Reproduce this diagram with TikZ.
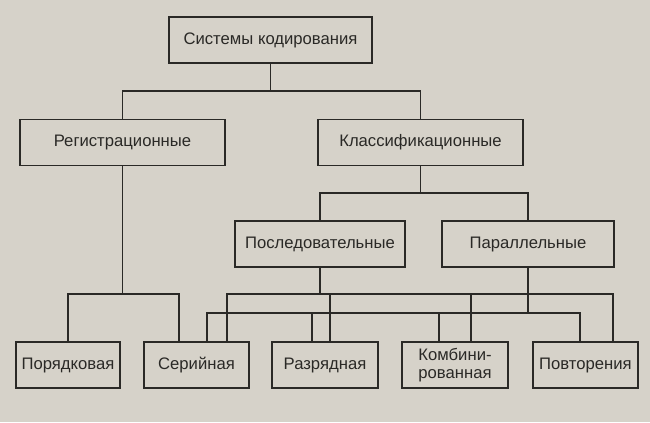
\documentclass[tikz,border=0pt]{standalone}
\usepackage{fontspec}
\setmainfont{Liberation Sans}
\usetikzlibrary{positioning}
\definecolor{paper}{HTML}{D6D2C9}
\definecolor{ink}{HTML}{2A2926}

\tikzset{
  box/.style={draw=ink, fill=paper, line width=1.2pt, inner sep=0pt, align=center,
    minimum height=34.5pt, font=\fontsize{12.5}{13.5}\selectfont, text=ink},
  wire/.style={draw=ink, line width=1.2pt}
}

\begin{document}
\begin{tikzpicture}[x=0.75pt, y=-0.75pt]
% Paper
\fill[paper] (0,0) rectangle (650,422);
% Boxes
\node[box, minimum width=152pt] (sys) at (270.5,40) {Системы кодирования};
\node[box, minimum width=154pt] (reg) at (122.5,142.5) {Регистрационные};
\node[box, minimum width=154pt] (cls) at (420.5,142.5) {Классификационные};
\node[box, minimum width=127.5pt] (pos) at (320,244) {Последовательные};
\node[box, minimum width=129pt] (par) at (528,244) {Параллельные};
\node[box, minimum width=78pt] (por) at (68,365) {Порядковая};
\node[box, minimum width=79pt] (ser) at (196.5,365) {Серийная};
\node[box, minimum width=79.5pt] (raz) at (325,365) {Разрядная};
\node[box, minimum width=79.5pt] (kom) at (455,365) {Комбини-\\рованная};
\node[box, minimum width=79pt] (pov) at (585.5,365) {Повторения};
% Junctions
\coordinate (jsys) at (270.5,91);
\coordinate (jcls) at (420.5,193);
\coordinate (jreg) at (122.5,294);
\coordinate (jpos) at (320,294);
\coordinate (jpar) at (528,313);
% Upper levels
\draw[wire] (sys) -- (jsys);
\draw[wire] (reg) |- (jsys) -| (cls);
\draw[wire] (cls) -- (jcls);
\draw[wire] (pos) |- (jcls) -| (par);
% Registration
\draw[wire] (reg) -- (jreg);
\draw[wire] (por) |- (jreg) -| ([xshift=-13.1pt]ser.north);
% Sequential
\draw[wire] (pos) -- (jpos);
\draw[wire] ([xshift=22.9pt]ser.north) |- (jpos) -| ([xshift=20.6pt]pov.north);
\draw[wire] (jpos) -| ([xshift=3.75pt]raz.north);
\draw[wire] (jpos) -| ([xshift=12pt]kom.north);
% Parallel
\draw[wire] (par) -- (jpar);
\draw[wire] ([xshift=7.9pt]ser.north) |- (jpar) -| ([xshift=-4.1pt]pov.north);
\draw[wire] (jpar) -| ([xshift=-9.75pt]raz.north);
\draw[wire] (jpar) -| ([xshift=-12pt]kom.north);
\end{tikzpicture}
\end{document}
